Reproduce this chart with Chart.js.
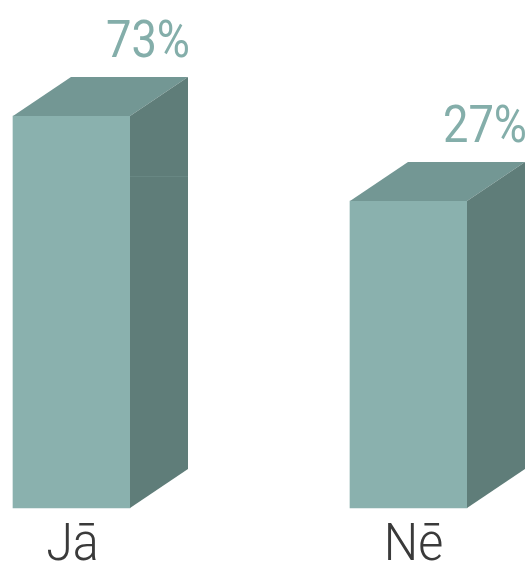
<!DOCTYPE html>
<html lang="lv">
<head>
<meta charset="utf-8">
<title>Jā / Nē</title>
<script src="https://cdn.jsdelivr.net/npm/chart.js@4"></script>
<style>
  html, body { margin: 0; padding: 0; background: #fff; overflow: hidden; }
  canvas { display: block; }
</style>
</head>
<body>
<canvas id="grafiks" width="531" height="563"></canvas>
<script>
const categories = ['Jā', 'Nē'];
const values = [73, 27];
const valueLabels = ['73%', '27%'];

const frontColor = '#8ab1ae';
const topColor = '#739794';
const sideColor = '#5f7d79';
const valueColor = '#84aeaa';
const labelColor = '#3a3a3a';
const depthX = 58;
const depthY = 39;
// ass nesākas no nulles, stabiņu augstumi attēlā nav proporcionāli
const axisMin = -139;
const axisMax = 73;
// kategoriju nosaukumi nav gluži centrēti zem stabiņiem
const labelShift = [1, 5];

// sanu un augšas skaldnes + teksti
const bars3d = {
    id: 'bars3d',
    afterDatasetsDraw(chart) {
        const ctx = chart.ctx;
        chart.getDatasetMeta(0).data.forEach((bar, i) => {
            const left = bar.x - bar.width / 2;
            const right = bar.x + bar.width / 2;
            const top = bar.y;
            const bottom = bar.base;

            ctx.save();
            ctx.fillStyle = topColor;
            ctx.beginPath();
            ctx.moveTo(left, top);
            ctx.lineTo(left + depthX, top - depthY);
            ctx.lineTo(right + depthX, top - depthY);
            ctx.lineTo(right, top);
            ctx.closePath();
            ctx.fill();

            ctx.fillStyle = sideColor;
            ctx.beginPath();
            ctx.moveTo(right, top);
            ctx.lineTo(right + depthX, top - depthY);
            ctx.lineTo(right + depthX, bottom - depthY);
            ctx.lineTo(right, bottom);
            ctx.closePath();
            ctx.fill();

            // viegla šuve pirmā stabiņa sānā, kā oriģinālā
            if (i === 0) {
                ctx.fillStyle = 'rgba(138, 177, 174, 0.2)';
                ctx.fillRect(right, top + 60, depthX, 1);
            }
            ctx.restore();

            // procenti - šaurāki par parasto Roboto
            ctx.save();
            ctx.fillStyle = valueColor;
            ctx.font = '400 52px Roboto';
            ctx.textAlign = 'right';
            ctx.textBaseline = 'alphabetic';
            ctx.translate(right + depthX + 2, top - depthY - 20);
            ctx.scale(0.87, 1);
            ctx.fillText(valueLabels[i], 0, 0);
            ctx.restore();

            // kategorija zem stabiņa
            ctx.save();
            ctx.fillStyle = labelColor;
            ctx.font = '300 51px Roboto';
            ctx.textAlign = 'center';
            ctx.textBaseline = 'alphabetic';
            ctx.translate(bar.x + labelShift[i], bottom + 52);
            ctx.scale(0.95, 1);
            ctx.fillText(categories[i], 0, 0);
            ctx.restore();
        });
    }
};

new Chart(document.getElementById('grafiks'), {
    type: 'bar',
    data: {
        labels: categories,
        datasets: [{
            data: values,
            base: axisMin,
            backgroundColor: frontColor,
            barThickness: 117,
            borderWidth: 0,
            clip: false
        }]
    },
    plugins: [bars3d],
    options: {
        responsive: false,
        animation: false,
        layout: { padding: { left: 71.5, right: 122.5, top: 116, bottom: 55 } },
        plugins: {
            legend: { display: false },
            tooltip: { enabled: false }
        },
        scales: {
            x: {
                offset: false,
                grid: { display: false, drawTicks: false },
                border: { display: false },
                ticks: { display: false }
            },
            y: {
                display: false,
                min: axisMin,
                max: axisMax
            }
        }
    }
});
</script>
</body>
</html>
